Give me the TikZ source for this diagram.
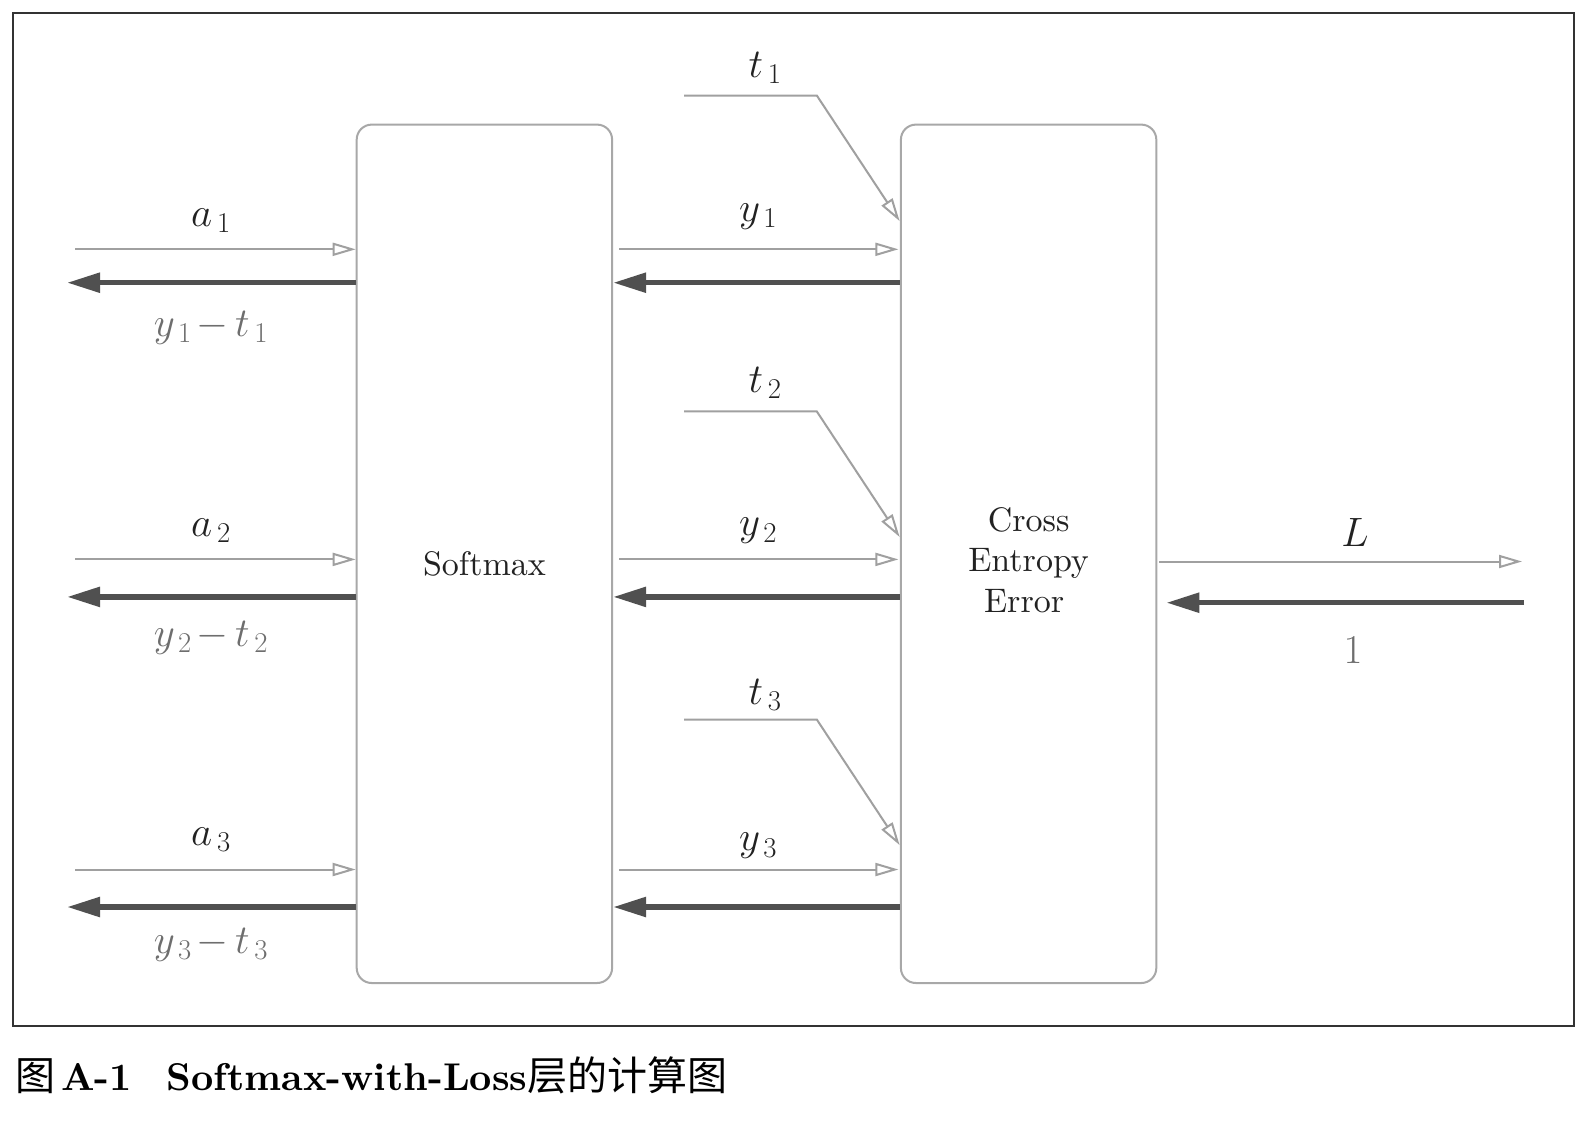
\RequirePackage{fix-cm}
\documentclass[tikz,border=0pt]{standalone}
\usepackage{fontspec}
\setmainfont{lmroman10-regular}[Extension=.otf, BoldFont=lmroman10-bold, ItalicFont=lmroman10-italic, BoldItalicFont=lmroman10-bolditalic]
\newfontfamily\cjk{Noto Sans CJK SC}
\usetikzlibrary{arrows.meta}
\definecolor{boxgray}{HTML}{A8A8A8}
\definecolor{fwdgray}{HTML}{A0A0A0}
\definecolor{bwddark}{HTML}{505050}
\definecolor{labblack}{HTML}{222222}
\definecolor{labgray}{HTML}{6E6E6E}
\definecolor{framecol}{HTML}{333333}
\tikzset{
  box/.style={draw=boxgray, line width=2pt, rounded corners=15pt,
    minimum width=255.4pt, minimum height=858.4pt, inner sep=0pt},
  boxtext/.style={font=\fontsize{34}{40.5}\selectfont, align=center, text=labblack, inner sep=0pt},
  fwd/.style={draw=fwdgray, line width=2pt,
    -{Triangle[open, length=23pt, width=13pt, fill=white]}},
  bwd/.style={draw=bwddark, line width=5.5pt, -{Triangle[length=33pt, width=19pt]}},
  lab/.style={font=\fontsize{41}{50}\selectfont, text=labblack, inner sep=0pt},
  glab/.style={lab, text=labgray},
}
\begin{document}
\begin{tikzpicture}[x=1pt, y=-1pt]
\useasboundingbox (0,0) rectangle (1589,1120);
\fill[white] (0,0) rectangle (1589,1120);
\draw[framecol, line width=2pt] (13.3,12.7) rectangle (1574.3,1025.5);

\node[box] (sm) at (484.4,553.8) {};
\node[box] (ce) at (1028.6,553.8) {};
\node[boxtext] (smt) at ([yshift=-10pt]sm.center) {Softmax};
\node[boxtext] (cet) at ([yshift=-6pt]ce.center) {Cross\\Entropy\\Error\hspace*{9pt}};

\foreach \i/\yt/\yb/\ty/\te in {1/249.3/282.7/95.5/221.5, 2/559.4/596.9/411.4/537.4, 3/869.5/907/719.5/845.5}{
  \coordinate (ain\i) at (75,\yt);
  \coordinate (gout\i) at (67,\yb);
  \coordinate (tin\i) at (684,\ty);
  \coordinate (tbend\i) at (816.8,\ty);
  \coordinate (tend\i) at (ce.west |- 0,\te);
  \draw[fwd] (ain\i) -- (ain\i -| sm.west);
  \draw[bwd] (gout\i -| sm.west) -- (gout\i);
  \draw[fwd, shorten <=6pt, shorten >=1.5pt] (ain\i -| sm.east) -- (ain\i -| ce.west);
  \draw[bwd] (gout\i -| ce.west) -- (gout\i -| sm.east);
  \draw[fwd, shorten >=0.5pt] (tin\i) -- (tbend\i) -- (tend\i);
}

% labels
\node[lab] (la1) at (211,221) {$a_{\,1}$};
\node[glab] (lg1) at (211,328) {$y_{\,1}\mkern2mu{-}\,t_{\,1}$};
\node[lab] (lt1) at (765,68) {$t_{\,1}$};
\node[lab] (ly1) at (758,217) {$y_{\,1}$};

\node[lab] (la2) at (211,531) {$a_{\,2}$};
\node[glab] (lg2) at (211,638) {$y_{\,2}\mkern2mu{-}\,t_{\,2}$};
\node[lab] (lt2) at (765,383) {$t_{\,2}$};
\node[lab] (ly2) at (758,531) {$y_{\,2}$};

\node[lab] (la3) at (211,840) {$a_{\,3}$};
\node[glab] (lg3) at (211,945) {$y_{\,3}\mkern2mu{-}\,t_{\,3}$};
\node[lab] (lt3) at (765,695) {$t_{\,3}$};
\node[lab] (ly3) at (758,846) {$y_{\,3}$};

% right side
\coordinate (Lout) at (1522,561.5);
\coordinate (gin) at (1524,602.7);
\draw[fwd, shorten <=2pt] (Lout -| ce.east) -- (Lout);
\draw[bwd, shorten >=9pt] (gin) -- (gin -| ce.east);
\node[lab] (lL) at (1355,532) {$L$};
\node[glab] (l1) at (1353,650) {$1$};

% caption
\node[anchor=base west, inner sep=0pt, text=black] (cap) at (15,1090)
  {{\fontsize{40}{48}\selectfont\cjk 图}\hspace{6pt}{\fontsize{38.7}{46}\selectfont\bfseries A-1\hspace{35pt}Softmax-with-Loss}{\fontsize{40}{48}\selectfont\cjk 层的计算图}};
\end{tikzpicture}
\end{document}
